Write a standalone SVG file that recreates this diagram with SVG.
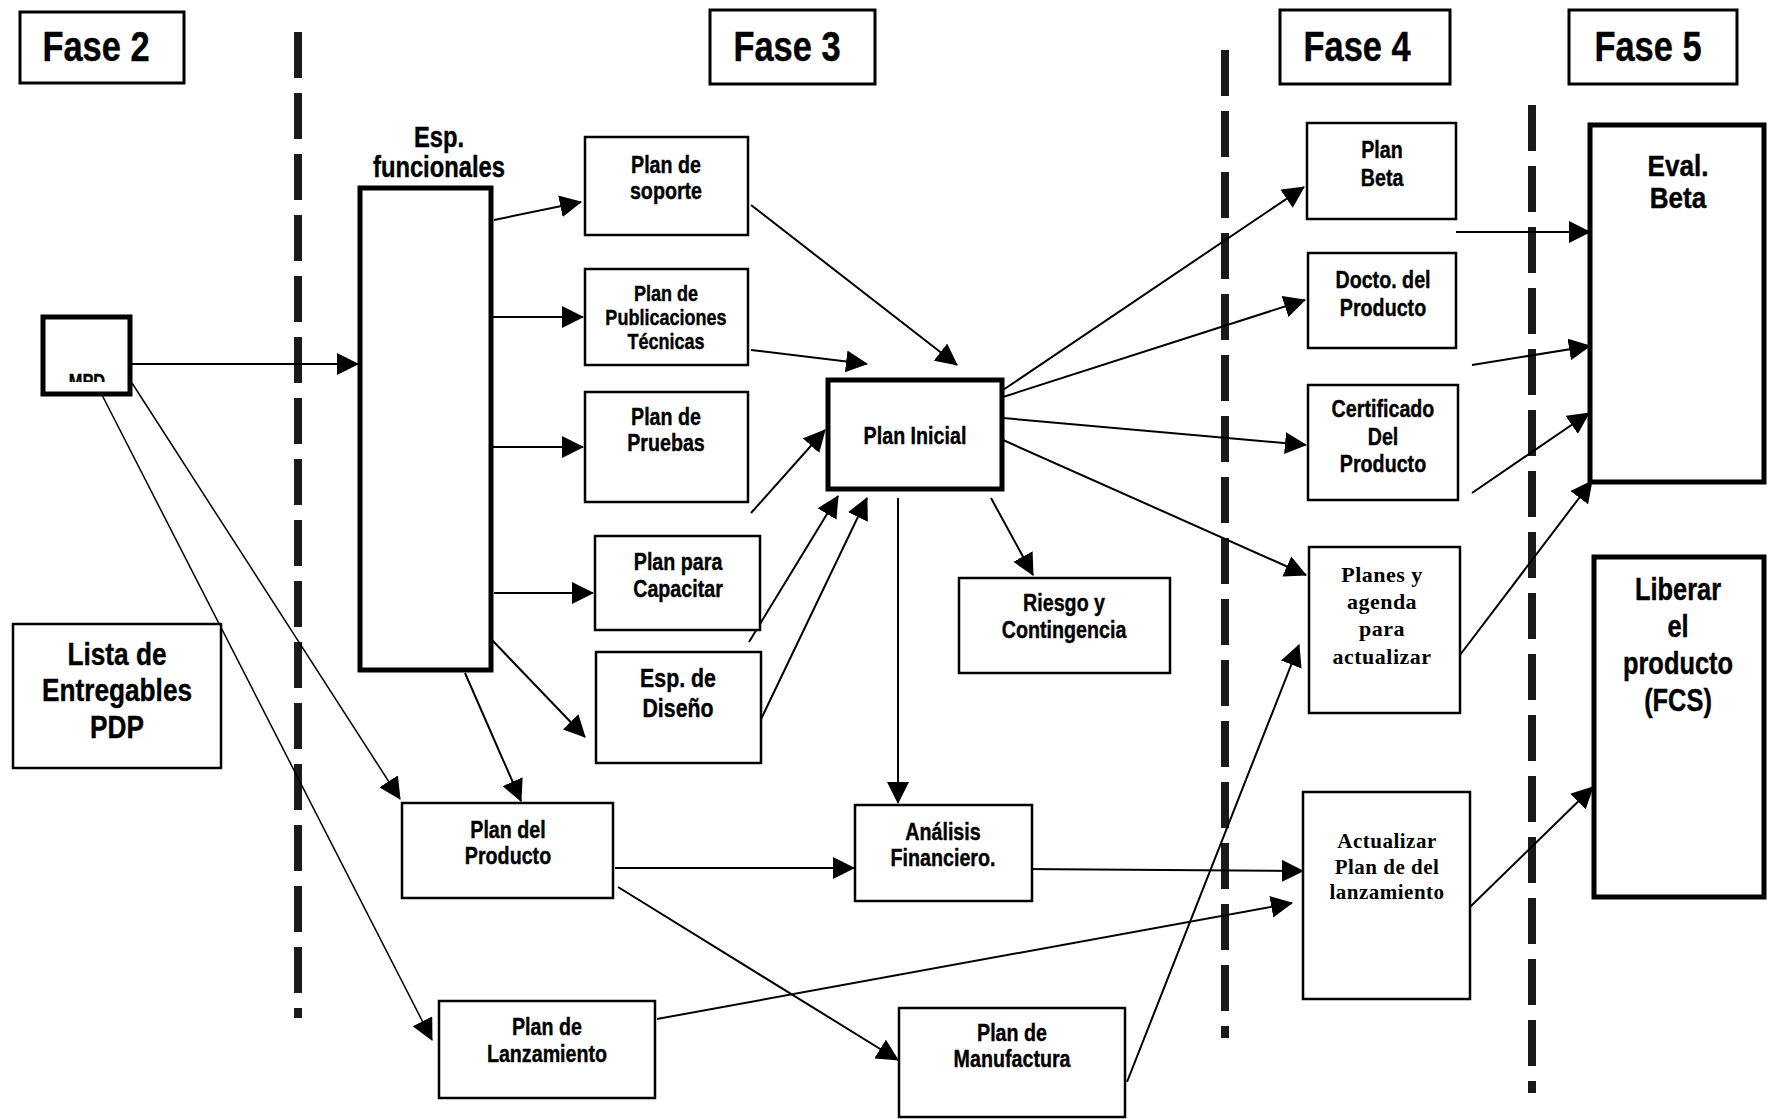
<svg xmlns="http://www.w3.org/2000/svg" width="1774" height="1119" viewBox="0 0 1774 1119">
  <style>
    .box { fill: #fff; stroke: #000; stroke-width: 2.5; }
    .thick { fill: #fff; stroke: #000; stroke-width: 5; }
    .phase { fill: #fff; stroke: #000; stroke-width: 3; }
    .lbl { font-family: "Liberation Sans", Arial, sans-serif; font-weight: bold; text-anchor: middle; fill: #000;
           stroke: #000; stroke-width: 0.4;
           transform-box: fill-box; transform-origin: center; transform: scaleX(0.82); }
    .wide { transform: scaleX(0.9); }
    .ser { font-family: "Liberation Serif", "Times New Roman", serif; font-weight: bold; text-anchor: middle; fill: #000; letter-spacing: 0.5px; }
    .f24 { font-size: 24px; }
    .f22 { font-size: 22px; }
    .conn line { stroke: #000; stroke-width: 2; marker-end: url(#ah); }
    .conn line.thin { stroke-width: 1.5; }
    .sep { stroke: #1a1a1a; stroke-width: 8; stroke-dasharray: 46 15; fill: none; }
  </style>
  <defs>
    <marker id="ah" viewBox="0 0 22 22" markerWidth="22" markerHeight="22" refX="21" refY="11" orient="auto" markerUnits="userSpaceOnUse">
      <path d="M0,0 L22,11 L0,22 z" fill="#000"/>
    </marker>
    <clipPath id="mpdClip"><rect x="43" y="317" width="87" height="65"/></clipPath>
  </defs>

  <rect width="1774" height="1119" fill="#fff"/>

  <!-- phase separators -->
  <g id="separators">
    <line class="sep" x1="298" y1="32" x2="298" y2="1018"/>
    <line class="sep" x1="1225" y1="50" x2="1225" y2="1038"/>
    <line class="sep" x1="1532" y1="105" x2="1532" y2="1093"/>
  </g>

  <!-- phase headers -->
  <g id="fase2"><rect class="phase" x="20" y="12" width="164" height="71"/><text class="lbl" x="96" y="61" font-size="42">Fase 2</text></g>
  <g id="fase3"><rect class="phase" x="710" y="10" width="165" height="74"/><text class="lbl" x="787" y="61" font-size="42">Fase 3</text></g>
  <g id="fase4"><rect class="phase" x="1280" y="10" width="170" height="74"/><text class="lbl" x="1357" y="61" font-size="42">Fase 4</text></g>
  <g id="fase5"><rect class="phase" x="1569" y="10" width="168" height="74"/><text class="lbl" x="1648" y="61" font-size="42">Fase 5</text></g>

  <!-- connectors -->
  <g id="connectors" class="conn">
    <line x1="132" y1="364" x2="358" y2="364"/>
    <line class="thin" x1="132" y1="383" x2="400" y2="799"/>
    <line class="thin" x1="101" y1="393" x2="432" y2="1040"/>
    <line x1="494" y1="220" x2="581" y2="202"/>
    <line x1="492" y1="317" x2="583" y2="317"/>
    <line x1="492" y1="447" x2="583" y2="447"/>
    <line x1="494" y1="593" x2="593" y2="593"/>
    <line x1="492" y1="640" x2="585" y2="737"/>
    <line x1="465" y1="673" x2="521" y2="801"/>
    <line x1="751" y1="205" x2="957" y2="365"/>
    <line x1="751" y1="350" x2="867" y2="364"/>
    <line x1="751" y1="513" x2="825" y2="430"/>
    <line x1="749" y1="642" x2="838" y2="496"/>
    <line x1="752" y1="738" x2="867" y2="498"/>
    <line x1="898" y1="498" x2="898" y2="803"/>
    <line x1="991" y1="498" x2="1033" y2="575"/>
    <line x1="1003" y1="390" x2="1304" y2="187"/>
    <line x1="1003" y1="397" x2="1305" y2="300"/>
    <line x1="1003" y1="418" x2="1306" y2="445"/>
    <line x1="1003" y1="440" x2="1306" y2="575"/>
    <line x1="615" y1="868" x2="854" y2="868"/>
    <line x1="618" y1="887" x2="898" y2="1060"/>
    <line x1="1021" y1="869" x2="1303" y2="871"/>
    <line x1="657" y1="1019" x2="1292" y2="903"/>
    <line x1="1127" y1="1082" x2="1299" y2="645"/>
    <line x1="1456" y1="232" x2="1590" y2="232"/>
    <line x1="1472" y1="365" x2="1590" y2="346"/>
    <line x1="1472" y1="493" x2="1589" y2="413"/>
    <line x1="1460" y1="655" x2="1592" y2="481"/>
    <line x1="1470" y1="907" x2="1593" y2="787"/>
  </g>

  <!-- phase 2 nodes -->
  <g id="mpd">
    <rect class="thick" x="43" y="317" width="87" height="77"/>
    <text class="lbl" x="87" y="388" font-size="20" clip-path="url(#mpdClip)">MPD</text>
  </g>
  <g id="lista-entregables">
    <rect class="box" x="13" y="624" width="208" height="144"/>
    <text class="lbl" x="117" y="665" font-size="32">Lista de</text>
    <text class="lbl" x="117" y="701" font-size="32">Entregables</text>
    <text class="lbl" x="117" y="738" font-size="32">PDP</text>
  </g>

  <!-- phase 3 nodes -->
  <g id="esp-funcionales">
    <text class="lbl" x="439" y="147" font-size="29">Esp.</text>
    <text class="lbl" x="439" y="177" font-size="29">funcionales</text>
    <rect class="thick" x="360" y="188" width="131" height="482"/>
  </g>
  <g id="plan-soporte">
    <rect class="box" x="585" y="137" width="163" height="98"/>
    <text class="lbl f24" x="666" y="173">Plan de</text>
    <text class="lbl f24" x="666" y="199">soporte</text>
  </g>
  <g id="plan-publicaciones">
    <rect class="box" x="585" y="269" width="163" height="96"/>
    <text class="lbl f22" x="666" y="301">Plan de</text>
    <text class="lbl f22" x="666" y="325">Publicaciones</text>
    <text class="lbl f22" x="666" y="349">Técnicas</text>
  </g>
  <g id="plan-pruebas">
    <rect class="box" x="585" y="392" width="163" height="110"/>
    <text class="lbl f24" x="666" y="425">Plan de</text>
    <text class="lbl f24" x="666" y="451">Pruebas</text>
  </g>
  <g id="plan-capacitar">
    <rect class="box" x="595" y="536" width="165" height="94"/>
    <text class="lbl f24" x="678" y="570">Plan para</text>
    <text class="lbl f24" x="678" y="597">Capacitar</text>
  </g>
  <g id="esp-diseno">
    <rect class="box" x="596" y="652" width="165" height="111"/>
    <text class="lbl" x="678" y="687" font-size="26">Esp. de</text>
    <text class="lbl" x="678" y="717" font-size="26">Diseño</text>
  </g>
  <g id="plan-inicial">
    <rect class="thick" x="828" y="380" width="174" height="109"/>
    <text class="lbl f24" x="915" y="444">Plan Inicial</text>
  </g>
  <g id="riesgo">
    <rect class="box" x="959" y="578" width="211" height="95"/>
    <text class="lbl f24" x="1064" y="611">Riesgo y</text>
    <text class="lbl f24" x="1064" y="638">Contingencia</text>
  </g>
  <g id="plan-producto">
    <rect class="box" x="402" y="803" width="211" height="95"/>
    <text class="lbl f24" x="508" y="838">Plan del</text>
    <text class="lbl f24" x="508" y="864">Producto</text>
  </g>
  <g id="analisis-financiero">
    <rect class="box" x="855" y="805" width="177" height="96"/>
    <text class="lbl f24" x="943" y="840">Análisis</text>
    <text class="lbl f24" x="943" y="866">Financiero.</text>
  </g>
  <g id="plan-lanzamiento">
    <rect class="box" x="439" y="1001" width="216" height="97"/>
    <text class="lbl f24" x="547" y="1035">Plan de</text>
    <text class="lbl f24" x="547" y="1062">Lanzamiento</text>
  </g>
  <g id="plan-manufactura">
    <rect class="box" x="899" y="1008" width="226" height="109"/>
    <text class="lbl f24" x="1012" y="1041">Plan de</text>
    <text class="lbl f24" x="1012" y="1067">Manufactura</text>
  </g>

  <!-- phase 4 nodes -->
  <g id="plan-beta">
    <rect class="box" x="1307" y="123" width="149" height="96"/>
    <text class="lbl f24" x="1382" y="158">Plan</text>
    <text class="lbl f24" x="1382" y="186">Beta</text>
  </g>
  <g id="docto-producto">
    <rect class="box" x="1308" y="253" width="148" height="95"/>
    <text class="lbl f24" x="1383" y="288">Docto. del</text>
    <text class="lbl f24" x="1383" y="316">Producto</text>
  </g>
  <g id="certificado">
    <rect class="box" x="1308" y="385" width="150" height="115"/>
    <text class="lbl f24" x="1383" y="417">Certificado</text>
    <text class="lbl f24" x="1383" y="445">Del</text>
    <text class="lbl f24" x="1383" y="472">Producto</text>
  </g>
  <g id="planes-agenda">
    <rect class="box" x="1309" y="547" width="151" height="166"/>
    <text class="ser" x="1382" y="582" font-size="22">Planes  y</text>
    <text class="ser" x="1382" y="609" font-size="22">agenda</text>
    <text class="ser" x="1382" y="636" font-size="22">para</text>
    <text class="ser" x="1382" y="664" font-size="22">actualizar</text>
  </g>
  <g id="actualizar-lanzamiento">
    <rect class="box" x="1303" y="792" width="167" height="207"/>
    <text class="ser" x="1387" y="848" font-size="21">Actualizar</text>
    <text class="ser" x="1387" y="874" font-size="21">Plan de  del</text>
    <text class="ser" x="1387" y="899" font-size="21">lanzamiento</text>
  </g>

  <!-- phase 5 nodes -->
  <g id="eval-beta">
    <rect class="thick" x="1590" y="125" width="174" height="357"/>
    <text class="lbl wide" x="1678" y="176" font-size="29">Eval.</text>
    <text class="lbl wide" x="1678" y="208" font-size="29">Beta</text>
  </g>
  <g id="liberar-producto">
    <rect class="thick" x="1594" y="557" width="170" height="340"/>
    <text class="lbl" x="1678" y="600" font-size="31">Liberar</text>
    <text class="lbl" x="1678" y="637" font-size="31">el</text>
    <text class="lbl" x="1678" y="674" font-size="31">producto</text>
    <text class="lbl" x="1678" y="711" font-size="31">(FCS)</text>
  </g>
</svg>
